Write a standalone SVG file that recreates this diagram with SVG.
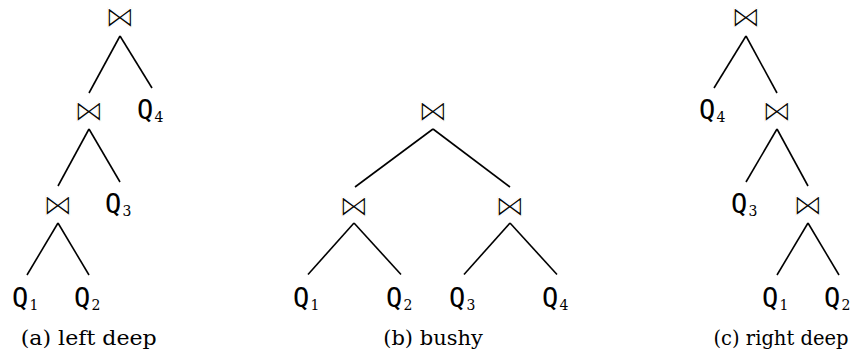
<svg xmlns="http://www.w3.org/2000/svg" width="857" height="363" viewBox="0 0 857 363">
  <style>
    .join { font-family: 'DejaVu Sans', sans-serif; font-size: 30px; text-anchor: middle; fill: #000; stroke: #fff; stroke-width: 1.1px; }
    .rel { font-family: 'DejaVu Sans Mono', monospace; font-size: 27px; text-anchor: end; fill: #000; }
    .idx { font-family: 'DejaVu Serif', serif; font-size: 14px; fill: #000; }
    .cap { font-family: 'DejaVu Serif', serif; font-size: 21px; text-anchor: middle; fill: #000; }
    .edges line { stroke: #000; stroke-width: 1.6; stroke-linecap: butt; }
  </style>
  <rect width="857" height="363" fill="#fff"/>

  <!-- (a) left deep -->
  <g id="a-join1" transform="translate(120,16.5)"><text class="join" y="10.5">⋈</text></g>
  <g id="a-join2" transform="translate(89,110)"><text class="join" y="10.5">⋈</text></g>
  <g id="a-q4" transform="translate(152,110)"><text class="rel" x="1.2" y="8.5">Q</text><text class="idx" x="2.5" y="11.5">4</text></g>
  <g id="a-join3" transform="translate(58,204)"><text class="join" y="10.5">⋈</text></g>
  <g id="a-q3" transform="translate(120,204)"><text class="rel" x="1.2" y="8.5">Q</text><text class="idx" x="2.5" y="11.5">3</text></g>
  <g id="a-q1" transform="translate(27,298.5)"><text class="rel" x="1.2" y="8.5">Q</text><text class="idx" x="2.5" y="11.5">1</text></g>
  <g id="a-q2" transform="translate(89,298.5)"><text class="rel" x="1.2" y="8.5">Q</text><text class="idx" x="2.5" y="11.5">2</text></g>
  <g id="a-caption"><text class="cap" x="88.7" y="345" textLength="136" lengthAdjust="spacingAndGlyphs">(a) left deep</text></g>

  <!-- (b) bushy -->
  <g id="b-join1" transform="translate(433,110.5)"><text class="join" y="10.5">⋈</text></g>
  <g id="b-join2" transform="translate(354,205)"><text class="join" y="10.5">⋈</text></g>
  <g id="b-join3" transform="translate(510,205)"><text class="join" y="10.5">⋈</text></g>
  <g id="b-q1" transform="translate(308,298.5)"><text class="rel" x="1.2" y="8.5">Q</text><text class="idx" x="2.5" y="11.5">1</text></g>
  <g id="b-q2" transform="translate(401,298.5)"><text class="rel" x="1.2" y="8.5">Q</text><text class="idx" x="2.5" y="11.5">2</text></g>
  <g id="b-q3" transform="translate(464,298.5)"><text class="rel" x="1.2" y="8.5">Q</text><text class="idx" x="2.5" y="11.5">3</text></g>
  <g id="b-q4" transform="translate(557,298.5)"><text class="rel" x="1.2" y="8.5">Q</text><text class="idx" x="2.5" y="11.5">4</text></g>
  <g id="b-caption"><text class="cap" x="433" y="345" textLength="99.5" lengthAdjust="spacingAndGlyphs">(b) bushy</text></g>

  <!-- (c) right deep -->
  <g id="c-join1" transform="translate(746,16.5)"><text class="join" y="10.5">⋈</text></g>
  <g id="c-q4" transform="translate(714,110)"><text class="rel" x="1.2" y="8.5">Q</text><text class="idx" x="2.5" y="11.5">4</text></g>
  <g id="c-join2" transform="translate(777,110)"><text class="join" y="10.5">⋈</text></g>
  <g id="c-q3" transform="translate(746,204)"><text class="rel" x="1.2" y="8.5">Q</text><text class="idx" x="2.5" y="11.5">3</text></g>
  <g id="c-join3" transform="translate(808,204)"><text class="join" y="10.5">⋈</text></g>
  <g id="c-q1" transform="translate(777,298.5)"><text class="rel" x="1.2" y="8.5">Q</text><text class="idx" x="2.5" y="11.5">1</text></g>
  <g id="c-q2" transform="translate(839,298.5)"><text class="rel" x="1.2" y="8.5">Q</text><text class="idx" x="2.5" y="11.5">2</text></g>
  <g id="c-caption"><text class="cap" x="781" y="345" textLength="135" lengthAdjust="spacingAndGlyphs">(c) right deep</text></g>

  <!-- tree edges -->
  <g id="edges" class="edges">
    <line x1="120" y1="36" x2="89" y2="93"/>
    <line x1="120" y1="36" x2="152" y2="88"/>
    <line x1="89" y1="129" x2="58" y2="186"/>
    <line x1="89" y1="129" x2="120" y2="182"/>
    <line x1="58" y1="223" x2="27" y2="275"/>
    <line x1="58" y1="223" x2="89" y2="275"/>

    <line x1="433" y1="129" x2="355" y2="187"/>
    <line x1="433" y1="129" x2="510" y2="187"/>
    <line x1="354" y1="223" x2="308" y2="274.5"/>
    <line x1="354" y1="223" x2="401" y2="274.5"/>
    <line x1="510" y1="223" x2="464" y2="274.5"/>
    <line x1="510" y1="223" x2="557" y2="274.5"/>

    <line x1="746" y1="36" x2="714" y2="88"/>
    <line x1="746" y1="36" x2="777" y2="93"/>
    <line x1="777" y1="129" x2="746" y2="182"/>
    <line x1="777" y1="129" x2="808" y2="186"/>
    <line x1="808" y1="223" x2="777" y2="275"/>
    <line x1="808" y1="223" x2="839" y2="275"/>
  </g>
</svg>
